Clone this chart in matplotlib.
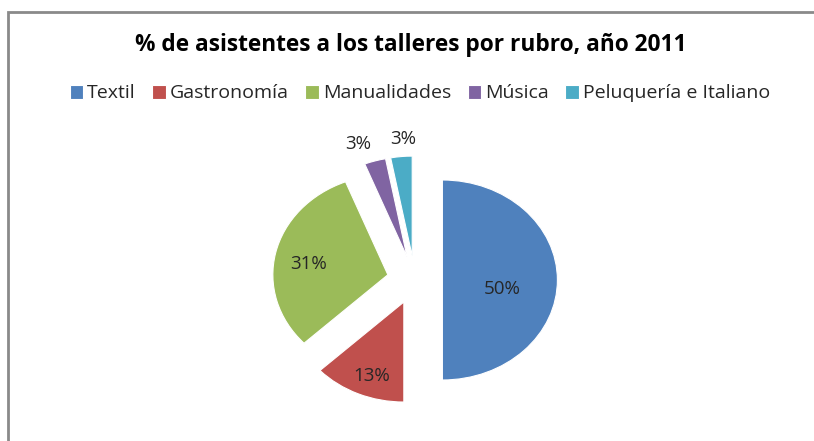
import matplotlib
matplotlib.use("Agg")
import matplotlib.pyplot as plt
import numpy as np
from matplotlib.patches import Rectangle

categories = ["Textil", "Gastronomía", "Manualidades", "Música", "Peluquería e Italiano"]
values = [50, 13, 31, 3, 3]
pct_labels = ["50%", "13%", "31%", "3%", "3%"]
title = "% de asistentes a los talleres por rubro, año 2011"

colors = ["#4F81BD", "#C0504D", "#9BBB59", "#8064A2", "#4BACC6"]
explode = [0.24] * 5
font = "Open Sans"

W, H = 814, 441
fig = plt.figure(figsize=(W / 100, H / 100), dpi=100)
fig.patch.set_facecolor("white")

# border (left and top visible)
fig.add_artist(Rectangle((8 / W, -0.1), 1.2, (H - 12) / H + 0.1, transform=fig.transFigure,
                         fill=False, edgecolor="#8a8a8a", linewidth=2.0))

ax = fig.add_axes([0, 0, 1, 1])
wedges, _ = ax.pie(values, colors=colors, explode=explode, startangle=90,
                   counterclock=False, radius=1.0,
                   wedgeprops=dict(linewidth=0.8, edgecolor="white"))
ax.set_aspect("auto")
cx, cy, sx, sy = 414.8, 280.0, 115.0, 100.0
ax.set_xlim(-cx / sx, (W - cx) / sx)
ax.set_ylim(-(H - cy) / sy, cy / sy)
ax.axis("off")

# data labels (inside distance, or outside for the small slices)
inside = [0.52, 0.75, 0.71, None, None]
dx_adj = [0.0, 0.02, 0.0, -0.10, 0.03]
dy_adj = [-0.09, -0.05, -0.05, 0.0, 0.0]
for w, lab, d, ddx, ddy in zip(wedges, pct_labels, inside, dx_adj, dy_adj):
    ang = np.deg2rad((w.theta1 + w.theta2) / 2)
    x0, y0 = w.center
    r = 1.18 if d is None else d
    ax.text(x0 + r * np.cos(ang) + ddx, y0 + r * np.sin(ang) + ddy, lab,
            ha="center", va="center", fontsize=13.5, family=font, color="#262626")

fig.text(411 / W, 1 - 45 / H, title, ha="center", va="center", fontsize=16.3,
         fontweight="bold", family=font, color="#000000")

leg = fig.legend(wedges, categories, loc="center", bbox_to_anchor=(420 / W, 1 - 93.5 / H),
                 ncol=5, frameon=False, prop=dict(family=font, size=14),
                 handlelength=0.7, handleheight=0.7, handletextpad=0.2,
                 columnspacing=0.85, labelcolor="#262626")

fig.savefig("out.png", dpi=100)
